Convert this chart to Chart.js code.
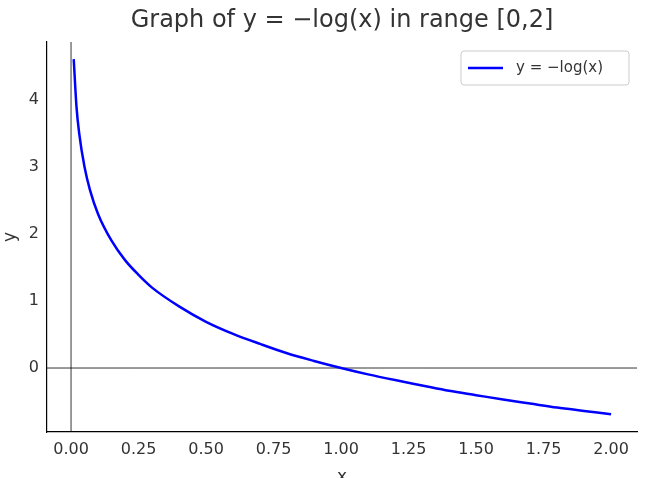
<!DOCTYPE html>
<html><head><meta charset="utf-8">
<script src="https://cdn.jsdelivr.net/npm/chart.js@4"></script>
<style>html,body{margin:0;padding:0;background:#fff}#w{width:645px;height:478px}</style>
</head><body><div id="w"><canvas id="c"></canvas></div>
<script>
const xValues = [0.01,0.02,0.03,0.05,0.07,0.1,0.15,0.2,0.25,0.3,0.4,0.5,0.6,0.7,0.8,0.9,1.0,1.1,1.2,1.3,1.4,1.5,1.6,1.7,1.8,1.9,2.0];
const yValues = [4.61,3.91,3.51,3.00,2.66,2.30,1.90,1.61,1.39,1.20,0.92,0.69,0.51,0.36,0.22,0.105,0,-0.095,-0.18,-0.26,-0.34,-0.405,-0.47,-0.53,-0.59,-0.64,-0.69];
const seriesLabel = 'y = −log(x)';
const titleText = 'Graph of y = −log(x) in range [0,2]';
const F = 'DejaVu Sans';
const deco = {
  id:'deco',
  beforeDatasetsDraw(ch){
    const {ctx,chartArea:a,scales:{x,y}}=ch;
    ctx.save();ctx.strokeStyle='#000';ctx.lineWidth=0.8;
    const x0=x.getPixelForValue(0),y0=y.getPixelForValue(0);
    ctx.beginPath();ctx.moveTo(x0,a.top);ctx.lineTo(x0,a.bottom);ctx.moveTo(a.left,y0);ctx.lineTo(a.right,y0);ctx.stroke();
    ctx.restore();
  },
  afterDraw(ch){
    const {ctx,chartArea:a}=ch;
    ctx.save();
    ctx.fillStyle='#333';ctx.font='24px '+F;ctx.textAlign='center';ctx.textBaseline='middle';
    ctx.fillText(titleText,(a.left+a.right)/2,21);
    ctx.font='17px '+F;
    ctx.fillText('x',(a.left+a.right)/2,478);
    ctx.translate(11,(a.top+a.bottom)/2);ctx.rotate(-Math.PI/2);ctx.fillText('y',0,0);
    ctx.restore();
    // legend
    ctx.save();
    const bx=461,by=51,bw=168,bh=34;
    ctx.fillStyle='#fff';ctx.strokeStyle='#ccc';ctx.lineWidth=1;
    ctx.beginPath();ctx.roundRect(bx,by,bw,bh,3);ctx.fill();ctx.stroke();
    ctx.strokeStyle='blue';ctx.lineWidth=2.5;ctx.beginPath();ctx.moveTo(468,68);ctx.lineTo(503,68);ctx.stroke();
    ctx.fillStyle='#333';ctx.font='15px '+F;ctx.textBaseline='middle';ctx.fillText(seriesLabel,516,68);
    ctx.restore();
  }
};
new Chart(document.getElementById('c'),{
  type:'line',
  data:{datasets:[{label:seriesLabel,data:xValues.map((v,i)=>({x:v,y:yValues[i]})),borderColor:'blue',borderWidth:2.5,pointRadius:0,cubicInterpolationMode:'monotone',fill:false}]},
  options:{responsive:true,maintainAspectRatio:false,animation:false,
    layout:{padding:{top:42,right:8,left:0,bottom:0}},
    plugins:{legend:{display:false},title:{display:false},tooltip:{enabled:false}},
    scales:{
      x:{type:'linear',min:-0.089,max:2.096,grid:{display:false,drawTicks:true,tickLength:5},border:{color:'#000',width:1.2},
        afterBuildTicks(s){s.ticks=[0,0.25,0.5,0.75,1,1.25,1.5,1.75,2].map(v=>({value:v}));},
        afterFit(s){s.height=46;},
        ticks:{color:'#333',font:{family:F,size:16},maxRotation:0,callback:v=>v.toFixed(2)}},
      y:{type:'linear',min:-0.955,max:4.866,grid:{display:false,tickLength:5},border:{color:'#000',width:1.2},
        afterBuildTicks(s){s.ticks=[0,1,2,3,4].map(v=>({value:v}));},
        afterFit(s){s.width=47;},
        ticks:{color:'#333',font:{family:F,size:16}}}
    }},
  plugins:[deco]
});
</script></body></html>
